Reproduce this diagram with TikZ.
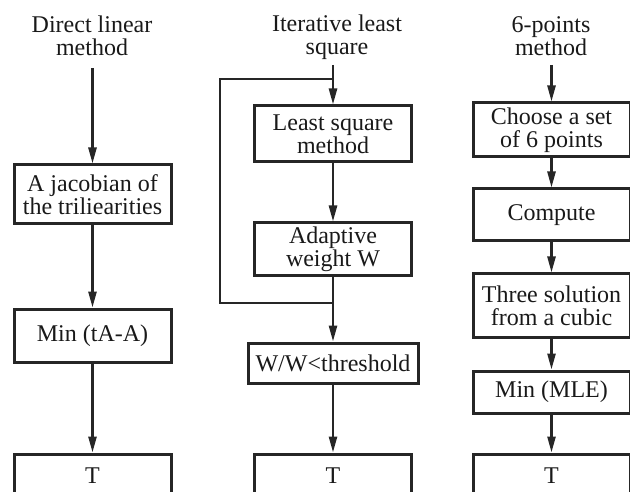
\documentclass[tikz,border=0pt]{standalone}
\usepackage{fontspec}
\setmainfont{Liberation Serif}
\usetikzlibrary{arrows.meta}

\begin{document}
\begin{tikzpicture}[
    x=1pt, y=-1pt,
    every text node part/.style={align=center},
    font=\fontsize{24}{23}\selectfont,
    title/.style={inner sep=0pt, text=black!90},
    stage/.style={
      % The shape:
      rectangle,
      % The size:
      minimum width=157pt,
      inner sep=0pt,
      % The border:
      line width=3pt,
      draw=black!85,
      text=black!90,
    },
    flow/.style={-{Triangle[length=16pt,width=8pt]}, line width=2.5pt, draw=black!85},
    back/.style={line width=2.5pt, draw=black!85},
  ]

  \useasboundingbox (0,0) rectangle (630,492);

  % Direct linear method
  \node[title] (direct) at (92,36) {Direct linear\\method};
  \coordinate (directstart) at (92.5,68);
  \node[stage, minimum height=59pt] (jacobian) at (92.5,194.5) {A jacobian of\\the triliearities};
  \node[stage, minimum height=53pt] (mintA) at (92.5,335.5) {Min (tA-A)};
  \node[stage, minimum height=44pt] (tdirect) at (92.5,476) {T};

  \draw[flow] (directstart) -- (jacobian);
  \draw[flow] (jacobian) -- (mintA);
  \draw[flow] (mintA) -- (tdirect);

  % Iterative least square
  \node[title] (iterative) at (337,37) {Iterative least\\square};
  \coordinate (iterstart) at (333,65);
  \coordinate (looptop) at (333,79);
  \node[stage, minimum height=56pt] (lsq) at (333,134) {Least square\\method};
  \node[stage, minimum height=53pt] (weight) at (333,249.5) {Adaptive\\weight W};
  \coordinate (loopbottom) at (333,303);
  \node[stage, minimum height=40pt, minimum width=170pt] (thresh) at (333,363) {W/W<threshold};
  \node[stage, minimum height=44pt] (titer) at (333,476) {T};

  \draw[flow] (iterstart) -- (lsq);
  \draw[flow] (lsq) -- (weight);
  \draw[back] (weight) -- (loopbottom) -- ++(-113,0) |- (looptop);
  \draw[flow] (loopbottom) -- (thresh);
  \draw[flow] (thresh) -- (titer);

  % 6-points method
  \node[title] (sixpoints) at (551,36) {6-points\\method};
  \coordinate (sixstart) at (551.5,65);
  \node[stage, minimum height=54pt] (choose) at (551.5,130) {Choose a set\\of 6 points};
  \node[stage, minimum height=52pt] (compute) at (551.5,215) {Compute};
  \node[stage, minimum height=63pt] (cubic) at (551.5,305.5) {Three solution\\from a cubic};
  \node[stage, minimum height=42pt] (mle) at (551.5,392) {Min (MLE)};
  \node[stage, minimum height=44pt] (tsix) at (551.5,476) {T};

  \draw[flow] (sixstart) -- (choose);
  \draw[flow] (choose) -- (compute);
  \draw[flow] (compute) -- (cubic);
  \draw[flow] (cubic) -- (mle);
  \draw[flow] (mle) -- (tsix);
\end{tikzpicture}
\end{document}
